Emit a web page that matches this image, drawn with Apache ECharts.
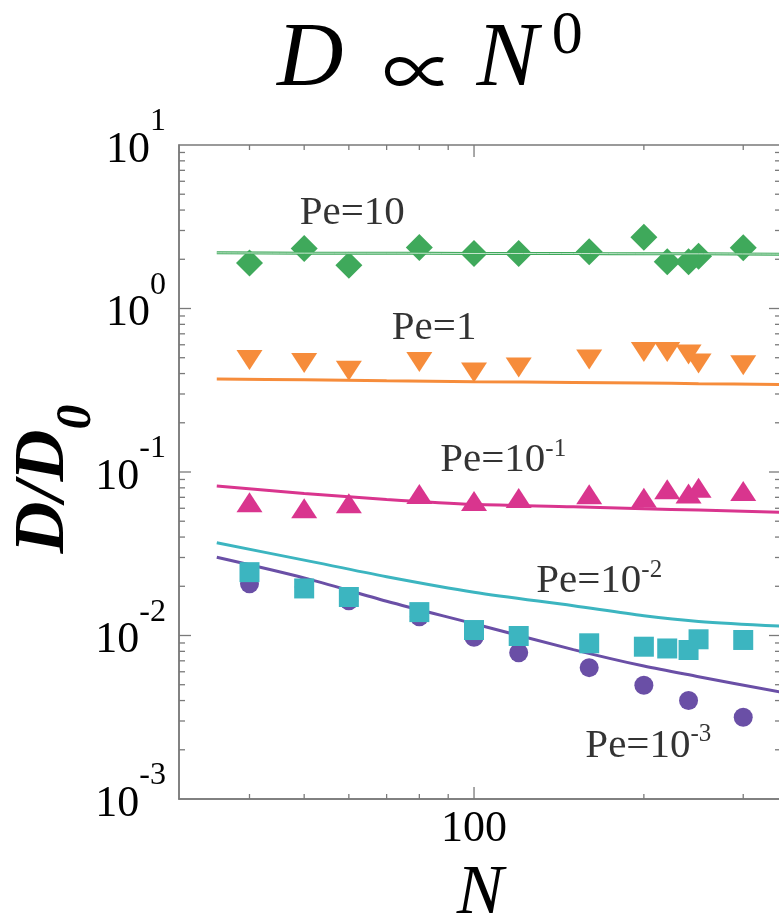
<!DOCTYPE html>
<html>
<head>
<meta charset="utf-8">
<script src="https://cdn.jsdelivr.net/npm/echarts@6/dist/echarts.min.js"></script>
<style>
  html, body { margin: 0; padding: 0; background: #ffffff; }
  #chart { width: 779px; height: 917px; }
</style>
</head>
<body>
<div id="chart"></div>
<script>
// Chain lengths N of the simulated polymers
const chainN = [40, 50, 60, 80, 100, 120, 160, 200, 220, 240, 250, 300];
const chainNLow = [40, 50, 60, 80, 100, 120, 160, 200, 240, 300];

// Measured diffusion coefficients D/D0, one array per Peclet number
const dPe10 = [1.90, 2.33, 1.84, 2.36, 2.17, 2.17, 2.22, 2.73, 1.93, 1.93, 2.09, 2.35];
const dPe1 = [0.485, 0.464, 0.416, 0.470, 0.406, 0.436, 0.488, 0.541, 0.541, 0.523, 0.461, 0.450];
const dPe1e1 = [0.0653, 0.0600, 0.0644, 0.0733, 0.0664, 0.0693, 0.0731, 0.0696, 0.0783, 0.0738, 0.0800, 0.0766];
const dPe1e2 = [0.0244, 0.0194, 0.0172, 0.0139, 0.0108, 0.00993, 0.00896, 0.00854, 0.00833, 0.00815, 0.00948, 0.00939];
const dPe1e3 = [0.0207, 0.0198, 0.0163, 0.0130, 0.00975, 0.00785, 0.00636, 0.00496, 0.00400, 0.00316];

// Theory curves
const theoryN = [35, 50, 70, 100, 150, 200, 250, 350];
const tPe10 = [2.19, 2.18, 2.18, 2.17, 2.17, 2.16, 2.16, 2.15];
const tPe1 = [0.370, 0.366, 0.361, 0.357, 0.353, 0.350, 0.347, 0.343];
const tPe1e1 = [0.082, 0.074, 0.068, 0.0634, 0.0613, 0.0595, 0.0585, 0.0566];
const tPe1e2 = [0.0369, 0.0289, 0.0229, 0.0184, 0.0152, 0.0132, 0.0122, 0.0114];
const tPe1e3 = [0.0301, 0.0225, 0.0162, 0.0118, 0.0082, 0.0065, 0.0056, 0.0045];

// Tick marks (inward, on all four sides of the frame)
const xMinorTicks = [40, 50, 60, 70, 80, 90, 200, 300];
const xMajorTicks = [100];
const yMinorTicks = [
  0.002, 0.003, 0.004, 0.005, 0.006, 0.007, 0.008, 0.009,
  0.02, 0.03, 0.04, 0.05, 0.06, 0.07, 0.08, 0.09,
  0.2, 0.3, 0.4, 0.5, 0.6, 0.7, 0.8, 0.9,
  2, 3, 4, 5, 6, 7, 8, 9
];
const yMajorTicks = [0.01, 0.1, 1];

const GREEN = '#3fa95b', ORANGE = '#f68c3b', MAGENTA = '#d9358e', CYAN = '#3cb5c0', PURPLE = '#6a4fa6';
const AXIS = '#7a7a7a';
const SERIF = 'Liberation Serif';
const INK = { color: '#000' };

const pair = (xs, ys) => xs.map((x, i) => [x, ys[i]]);

function tickSeries(values, axis, len) {
  return {
    type: 'custom', silent: true, clip: false, z: 6,
    data: values.map(v => axis === 'x' ? [v, 1] : [100, v]),
    renderItem(params, api) {
      const cs = params.coordSys;
      const p = api.coord([api.value(0), api.value(1)]);
      const style = { stroke: AXIS, lineWidth: 1.3 };
      if (axis === 'x') {
        const yb = cs.y + cs.height, yt = cs.y;
        return { type: 'group', children: [
          { type: 'line', shape: { x1: p[0], y1: yb, x2: p[0], y2: yb - len }, style },
          { type: 'line', shape: { x1: p[0], y1: yt, x2: p[0], y2: yt + len }, style }
        ] };
      }
      const xl = cs.x, xr = cs.x + cs.width;
      return { type: 'group', children: [
        { type: 'line', shape: { x1: xl, y1: p[1], x2: xl + len, y2: p[1] }, style },
        { type: 'line', shape: { x1: xr, y1: p[1], x2: xr - len, y2: p[1] }, style }
      ] };
    }
  };
}

function curve(ys, color, z) {
  return { type: 'line', data: pair(theoryN, ys), showSymbol: false, smooth: 0.3, lineStyle: { color, width: 3 }, z, silent: true };
}

function points(xs, ys, symbol, size, color, z, rotate) {
  return { type: 'scatter', data: pair(xs, ys), symbol, symbolSize: size, symbolRotate: rotate || 0, itemStyle: { color, opacity: 1 }, z, silent: true };
}

// Curve annotations, anchored at the left edge of each text in data coordinates
const annotations = [
  { name: '{m|Pe=10}', value: [49.1, 3.89] },
  { name: '{m|Pe=1}', value: [71.5, 0.771] },
  { name: '{m|Pe=10}{s|-1}', value: [87.1, 0.1208] },
  { name: '{m|Pe=10}{s|-2}', value: [128.9, 0.0218] },
  { name: '{m|Pe=10}{s|-3}', value: [157.5, 0.00216] }
];

const chart = echarts.init(document.getElementById('chart'), null, { renderer: 'canvas' });

chart.setOption({
  animation: false,
  backgroundColor: '#ffffff',
  title: {
    left: 272, top: 1,
    text: '{i|D}{p|\u221D}{i|N}{s|0}',
    textStyle: {
      fontWeight: 'normal',
      rich: {
        i: { fontFamily: SERIF, fontStyle: 'italic', fontWeight: 'normal', fontSize: 92, lineHeight: 101, verticalAlign: 'bottom', color: '#000' },
        p: { fontFamily: 'Noto Sans CJK JP', fontWeight: 'normal', fontSize: 72, lineHeight: 72, padding: [0, 22, 0, 39], verticalAlign: 'bottom', color: '#000' },
        s: { fontFamily: SERIF, fontWeight: 'normal', fontSize: 62, lineHeight: 62, verticalAlign: 'top', padding: [0, 0, 0, 14], color: '#000' }
      }
    }
  },
  grid: { left: 179, top: 145, width: 602, height: 654, show: true, borderColor: AXIS, borderWidth: 1.5, outerBoundsMode: 'none', containLabel: false },
  xAxis: {
    type: 'log', logBase: 10, min: 30, max: 350,
    axisLine: { show: true, lineStyle: { color: AXIS, width: 1.5 } },
    axisTick: { show: false }, splitLine: { show: false }, minorTick: { show: false },
    axisLabel: Object.assign({ margin: 8, fontFamily: SERIF, fontSize: 44, showMinLabel: false, showMaxLabel: false,
      formatter: v => (Math.abs(v - 100) < 1e-6 ? '100' : '') }, INK),
    name: 'N', nameLocation: 'middle', nameGap: 61, nameMoveOverlap: false,
    nameTextStyle: { fontFamily: SERIF, fontStyle: 'italic', fontSize: 70, color: '#000' }
  },
  yAxis: {
    type: 'log', logBase: 10, min: 0.001, max: 10,
    axisLine: { show: true, lineStyle: { color: AXIS, width: 1.5 } },
    axisTick: { show: false }, splitLine: { show: false }, minorTick: { show: false },
    axisLabel: Object.assign({
      margin: 13, fontFamily: SERIF, fontSize: 44, padding: [0, 0, 12, 0],
      formatter: v => '{b|10}{s|' + Math.round(Math.log10(v)) + '}',
      rich: {
        b: Object.assign({ fontFamily: SERIF, fontSize: 44, lineHeight: 66, verticalAlign: 'bottom' }, INK),
        s: Object.assign({ fontFamily: SERIF, fontSize: 32, lineHeight: 32, verticalAlign: 'top' }, INK)
      }
    }, INK),
    name: '{a|D/D}{s|0}', nameLocation: 'middle', nameRotate: 90, nameGap: 77, nameMoveOverlap: false,
    nameTextStyle: {
      rich: {
        a: { fontFamily: SERIF, fontStyle: 'italic', fontWeight: 'bold', fontSize: 72, lineHeight: 72, verticalAlign: 'top', color: '#000' },
        s: { fontFamily: SERIF, fontStyle: 'italic', fontWeight: 'bold', fontSize: 50, lineHeight: 94, verticalAlign: 'bottom', padding: [0, 14, 0, 0], color: '#000' }
      }
    }
  },
  series: [
    points(chainN, dPe10, 'diamond', [27, 27], GREEN, 3),
    curve(tPe10, GREEN, 4),
    { type: 'line', data: pair(theoryN, tPe10), showSymbol: false, smooth: 0.3, silent: true, lineStyle: { color: '#ffffff', width: 1, opacity: 0.7 }, z: 5 },
    curve(tPe1, ORANGE, 2),
    points(chainN, dPe1, 'triangle', [26, 20], ORANGE, 3, 180),
    curve(tPe1e1, MAGENTA, 2),
    points(chainN, dPe1e1, 'triangle', [26, 20], MAGENTA, 3),
    points(chainNLow, dPe1e3, 'circle', 19, PURPLE, 2),
    curve(tPe1e3, PURPLE, 3),
    points(chainN, dPe1e2, 'rect', 20, CYAN, 4),
    curve(tPe1e2, CYAN, 4),
    { type: 'scatter', symbolSize: 0, silent: true, z: 7, data: annotations,
      label: Object.assign({ show: true, position: 'right', distance: 0, fontFamily: SERIF, fontSize: 41, formatter: p => p.name,
        rich: {
          m: Object.assign({ fontFamily: SERIF, fontSize: 41, lineHeight: 44, verticalAlign: 'bottom' }, INK),
          s: Object.assign({ fontFamily: SERIF, fontSize: 25, lineHeight: 25, verticalAlign: 'top' }, INK)
        } }, INK) },
    tickSeries(xMinorTicks, 'x', 5),
    tickSeries(xMajorTicks, 'x', 12),
    tickSeries(yMinorTicks, 'y', 6),
    tickSeries(yMajorTicks, 'y', 12)
  ]
});
</script>
</body>
</html>
